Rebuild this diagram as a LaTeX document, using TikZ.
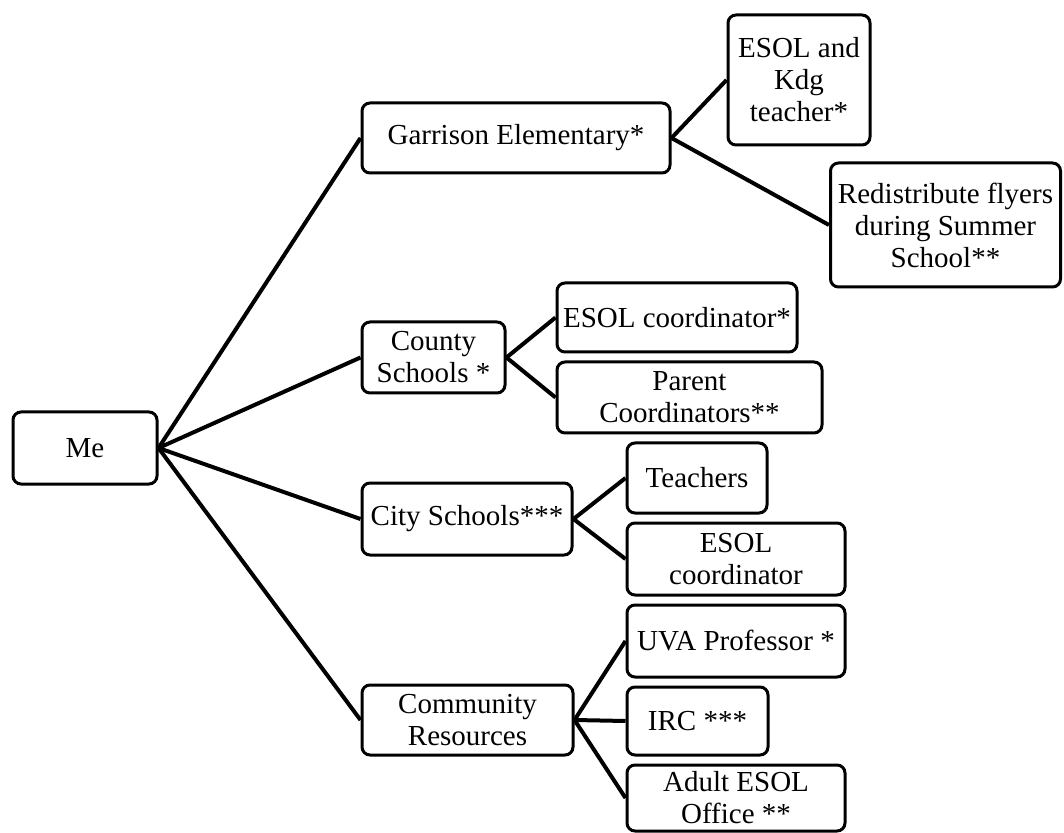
\documentclass[tikz,border=0pt]{standalone}
\usepackage{fontspec}
\setmainfont{Liberation Serif}
\begin{document}
\begin{tikzpicture}[x=0.5pt,y=-0.5pt,
  box/.style={draw, line width=1.5pt, rounded corners=4pt, align=center, inner sep=2pt,
    font=\fontsize{14.5}{16}\selectfont},
  link/.style={line width=2pt}]
\useasboundingbox (0,0) rectangle (1064,833);
\node[box, minimum width=72pt, minimum height=36pt] (me) at (85,448) {Me};
\node[box, minimum width=154pt, minimum height=35pt] (gar) at (516,138) {Garrison Elementary*};
\node[box, minimum width=71pt, minimum height=65pt] (kdg) at (799,80) {ESOL and\\Kdg\\teacher*};
\node[box, minimum width=115pt, minimum height=62pt] (redis) at (945.5,225) {Redistribute flyers\\during Summer\\School**};
\node[box, minimum width=71.5pt, minimum height=35.5pt] (county) at (433.5,357.5) {County\\Schools *};
\node[box, minimum width=120pt, minimum height=34.5pt] (esolc) at (677,317.5) {ESOL coordinator*};
\node[box, minimum width=132.5pt, minimum height=35.5pt] (parent) at (689.5,397.5) {Parent\\Coordinators**};
\node[box, minimum width=105pt, minimum height=36pt] (city) at (467,519) {City Schools***};
\node[box, minimum width=70pt, minimum height=35pt] (teach) at (697,478) {Teachers};
\node[box, minimum width=109pt, minimum height=36pt] (esolcity) at (736,559) {ESOL\\coordinator};
\node[box, minimum width=105.5pt, minimum height=35pt] (comm) at (467.5,720) {Community\\Resources};
\node[box, minimum width=109pt, minimum height=36pt] (uva) at (736,641) {UVA Professor *};
\node[box, minimum width=70.5pt, minimum height=34pt] (irc) at (697.5,721) {IRC ***};
\node[box, minimum width=109pt, minimum height=33pt] (adult) at (736,798) {Adult ESOL\\Office **};
\draw[link] (me.east) -- (gar.west);
\draw[link] (me.east) -- (county.west);
\draw[link] (me.east) -- (city.west);
\draw[link] (me.east) -- (comm.west);
\draw[link] (gar.east) -- (kdg.west);
\draw[link] (gar.east) -- (redis.west);
\draw[link] (county.east) -- (esolc.west);
\draw[link] (county.east) -- (parent.west);
\draw[link] (city.east) -- (teach.west);
\draw[link] (city.east) -- (esolcity.west);
\draw[link] (comm.east) -- (uva.west);
\draw[link] (comm.east) -- (irc.west);
\draw[link] (comm.east) -- (adult.west);
\end{tikzpicture}
\end{document}
